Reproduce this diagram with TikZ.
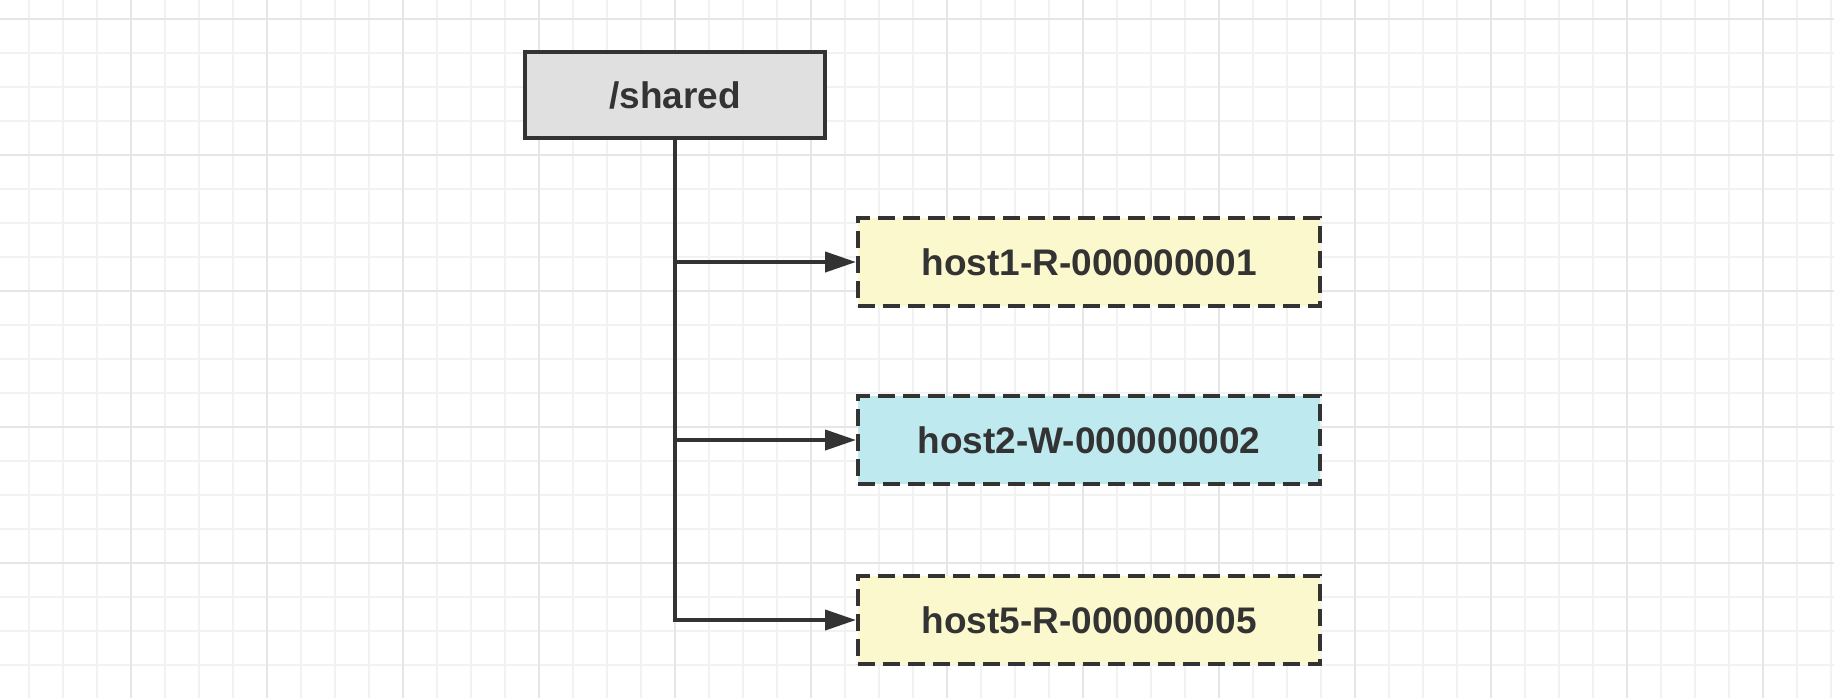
\documentclass[tikz,border=0pt]{standalone}
\usepackage{fontspec}
\setmainfont{Liberation Sans}
\usetikzlibrary{arrows.meta}
\definecolor{ink}{HTML}{333333}
\definecolor{dirgray}{HTML}{E0E0E0}
\definecolor{readyellow}{HTML}{FCF8CD}
\definecolor{writeblue}{HTML}{BDE9EF}
\definecolor{gridminor}{HTML}{F2F2F2}
\definecolor{gridmajor}{HTML}{E6E6E6}

\begin{document}
\begin{tikzpicture}[x=0.5pt,y=-0.5pt,
  minor/.style={draw=gridminor, line width=1pt},
  major/.style={draw=gridmajor, line width=1pt},
  dir/.style={draw=ink, line width=2pt, fill=dirgray, inner sep=0pt,
    minimum width=150pt, minimum height=43pt, text=ink,
    font=\bfseries\fontsize{18.5}{22}\selectfont},
  lock/.style={draw=ink, line width=2pt, dash pattern=on 8.5pt off 4pt, inner sep=0pt,
    minimum width=231pt, minimum height=44pt, text=ink,
    font=\bfseries\fontsize{18.5}{22}\selectfont},
  link/.style={draw=ink, line width=2pt, -{Triangle[length=15.5pt,width=10pt]}}]
\useasboundingbox[fill=white] (0,0) rectangle (1834,698);

% grid
\foreach \x in {29,63,...,1834} \draw[minor] (\x,0) -- (\x,698);
\foreach \y in {19,53,...,698} \draw[minor] (0,\y) -- (1834,\y);
\foreach \x in {131,267,...,1834} \draw[major] (\x,0) -- (\x,698);
\foreach \y in {19,155,...,698} \draw[major] (0,\y) -- (1834,\y);

\node[dir] (shared) at (675,95) {/shared};

\node[lock, fill=readyellow] (h1) at (1089,262) {host1-R-000000001};
\node[lock, fill=writeblue] (h2) at (1089,440) {host2-W-000000002};
\node[lock, fill=readyellow] (h5) at (1089,620) {host5-R-000000005};

\draw[link] (shared.south) |- (h5.west);
\draw[link] (shared.south |- h1.west) -- (h1.west);
\draw[link] (shared.south |- h2.west) -- (h2.west);
\end{tikzpicture}
\end{document}
